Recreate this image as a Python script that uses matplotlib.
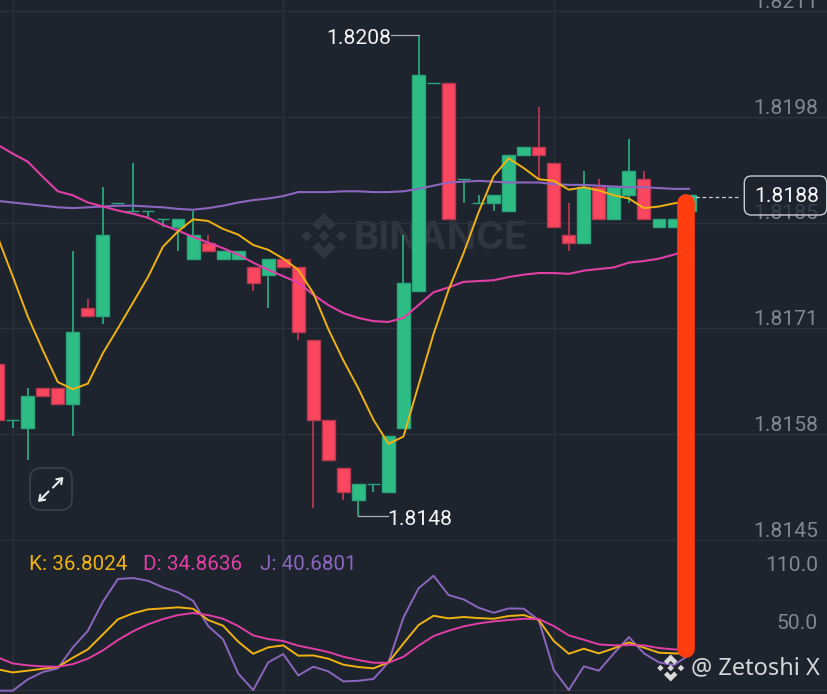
#!/usr/bin/env python3
"""
Candlestick chart with three moving averages and a KDJ panel (dark exchange style).
Output: out.png
"""

import matplotlib
matplotlib.use("Agg")
import matplotlib.pyplot as plt
from matplotlib.patches import FancyBboxPatch, Polygon

# Candles start one slot before the first gridline, so index runs from -1
first_index = -1
opens = [
	1.8167, 1.8160, 1.8159, 1.8164, 1.8164, 1.8162, 1.8174, 1.8173, 1.8187, 1.8186,
	1.8186, 1.8185, 1.8184, 1.8180, 1.8182, 1.8180, 1.8180, 1.8179, 1.8178, 1.8180,
	1.8179, 1.8170, 1.8160, 1.8154, 1.8150, 1.8152, 1.8151, 1.8159, 1.8176, 1.8202,
	1.8202, 1.8190, 1.8187, 1.8187, 1.8186, 1.8193, 1.8194, 1.8192, 1.8183, 1.8182,
	1.8189, 1.8185, 1.8188, 1.8190, 1.8184, 1.8184, 1.8186,
]
closes = [
	1.8160, 1.8160, 1.8163, 1.8163, 1.8162, 1.8171, 1.8173, 1.8183, 1.8187, 1.8186,
	1.8186, 1.8185, 1.8185, 1.8183, 1.8181, 1.8181, 1.8181, 1.8177, 1.8180, 1.8179,
	1.8171, 1.8160, 1.8155, 1.8151, 1.8152, 1.8152, 1.8158, 1.8177, 1.8203, 1.8202,
	1.8185, 1.8190, 1.8187, 1.8188, 1.8193, 1.8194, 1.8193, 1.8184, 1.8182, 1.8189,
	1.8185, 1.8189, 1.8191, 1.8185, 1.8185, 1.8185, 1.8188,
]
highs = [
	1.8167, 1.8160, 1.8164, 1.8164, 1.8164, 1.8181, 1.8175, 1.8189, 1.8187, 1.8192,
	1.8186, 1.8185, 1.8185, 1.8186, 1.8183, 1.8181, 1.8181, 1.8179, 1.8180, 1.8180,
	1.8179, 1.8170, 1.8160, 1.8154, 1.8152, 1.8152, 1.8158, 1.8183, 1.8208, 1.8202,
	1.8202, 1.8190, 1.8188, 1.8188, 1.8193, 1.8194, 1.8199, 1.8192, 1.8187, 1.8191,
	1.8190, 1.8189, 1.8195, 1.8191, 1.8185, 1.8185, 1.8188,
]
lows = [
	1.8160, 1.8159, 1.8155, 1.8163, 1.8162, 1.8158, 1.8173, 1.8172, 1.8187, 1.8186,
	1.8185, 1.8184, 1.8181, 1.8180, 1.8181, 1.8180, 1.8180, 1.8176, 1.8174, 1.8179,
	1.8170, 1.8149, 1.8155, 1.8150, 1.8148, 1.8151, 1.8151, 1.8159, 1.8176, 1.8202,
	1.8185, 1.8187, 1.8187, 1.8186, 1.8186, 1.8193, 1.8190, 1.8184, 1.8181, 1.8182,
	1.8185, 1.8185, 1.8187, 1.8185, 1.8184, 1.8184, 1.8186,
]

ma_fast = [
	1.81828, 1.81779, 1.81729, 1.81687, 1.81647, 1.81638, 1.81645, 1.81683, 1.81714, 1.81746,
	1.81778, 1.81816, 1.81835, 1.81850, 1.81848, 1.81838, 1.81831, 1.81818, 1.81812, 1.81801,
	1.81787, 1.81758, 1.81713, 1.81674, 1.81639, 1.81600, 1.81570, 1.81579, 1.81643, 1.81707,
	1.81762, 1.81808, 1.81859, 1.81904, 1.81926, 1.81914, 1.81900, 1.81898, 1.81887, 1.81890,
	1.81886, 1.81880, 1.81876, 1.81864, 1.81866, 1.81870, 1.81872,
]
ma_mid = [
	1.81943, 1.81932, 1.81922, 1.81903, 1.81885, 1.81880, 1.81871, 1.81866, 1.81861, 1.81857,
	1.81852, 1.81843, 1.81836, 1.81828, 1.81821, 1.81814, 1.81806, 1.81796, 1.81787, 1.81779,
	1.81771, 1.81756, 1.81743, 1.81733, 1.81727, 1.81723, 1.81722, 1.81727, 1.81743, 1.81759,
	1.81765, 1.81772, 1.81773, 1.81774, 1.81778, 1.81781, 1.81783, 1.81783, 1.81782, 1.81786,
	1.81788, 1.81790, 1.81796, 1.81798, 1.81801, 1.81806, 1.81812,
]
ma_slow = [
	1.81873, 1.81871, 1.81869, 1.81867, 1.81865, 1.81864, 1.81865, 1.81866, 1.81867, 1.81867,
	1.81866, 1.81865, 1.81863, 1.81862, 1.81864, 1.81867, 1.81871, 1.81874, 1.81876, 1.81879,
	1.81884, 1.81884, 1.81884, 1.81885, 1.81885, 1.81884, 1.81884, 1.81885, 1.81888, 1.81892,
	1.81896, 1.81897, 1.81898, 1.81897, 1.81896, 1.81896, 1.81896, 1.81894, 1.81893, 1.81893,
	1.81892, 1.81891, 1.81890, 1.81890, 1.81889, 1.81888, 1.81888,
]

kdj_k = [
	12.5, 9.35, 11.1, 13.1, 14.9, 24.5, 33.1, 48.6, 64.2, 70.4,
	74.5, 75.5, 76.6, 75.2, 63.5, 57.6, 41.1, 28.6, 35.2, 37.3,
	26.6, 26.9, 23.5, 17.3, 14.9, 13.5, 19.7, 39.3, 58.3, 67.9,
	65.2, 66.6, 65.5, 64.8, 67.6, 68.6, 63.5, 41.8, 28.6, 33.8,
	29.0, 34.2, 40.4, 34.9, 29.7, 29.0, 29.0,
]
kdj_d = [
	24.9, 18.6, 16.6, 15.5, 15.2, 17.9, 23.5, 32.1, 42.8, 51.8,
	59.0, 64.5, 68.6, 70.7, 68.6, 64.8, 57.3, 47.6, 43.8, 41.8,
	36.9, 33.8, 30.4, 25.5, 22.1, 19.3, 19.3, 25.5, 36.9, 46.9,
	52.4, 56.9, 60.0, 62.1, 63.5, 64.8, 64.5, 57.3, 47.6, 43.1,
	38.3, 37.3, 37.6, 37.3, 34.5, 33.1, 32.4,
]
kdj_j = [
	-9.6, -9.6, 2.1, 9.7, 13.5, 35.2, 52.4, 82.4, 105.9, 106.9,
	104.1, 97.2, 92.1, 83.4, 57.3, 43.5, 8.3, -8.9, 19.7, 28.3,
	6.2, 15.2, 10.4, 0.0, 0.7, 2.5, 19.7, 66.2, 96.2, 109.3,
	89.3, 84.8, 76.2, 71.0, 75.5, 75.2, 63.5, 11.8, -8.9, 15.6,
	11.1, 29.0, 45.9, 29.0, 19.7, 16.9, 27.3,
]

price_ticks = [1.8211, 1.81978, 1.81846, 1.81714, 1.81582, 1.8145]
price_tick_labels = ["1.8211", "1.8198", "1.8185", "1.8171", "1.8158", "1.8145"]
kdj_ticks = [110.0, 50.0]
kdj_tick_labels = ["110.0", "50.0"]
grid_slots = [0, 18, 36]
high_label = "1.8208"
low_label = "1.8148"
last_label = "1.8188"
last_price = 1.81878
legend_items = [("K: 36.8024", 29), ("D: 34.8636", 143), ("J: 40.6801", 260)]

BG = "#1E242E"
GRID = "#2C323C"
UP = "#2EBD85"
DOWN = "#F9475F"
UP_WICK = "#2AA67C"
DOWN_WICK = "#B8364F"
YELLOW = "#F0B212"
MAGENTA = "#E03FA6"
PURPLE = "#8C66BE"
AXIS_TEXT = "#7F8792"
FONT = "Roboto"
NUM_SIZE = 15.2

W, H = 828, 694
XLIM = (-0.845, 54.245)
PRICE_BOTTOM_PX = 541


def add_logo(ax, cx, cy, r, color, zorder=1):
	"""Diamond logo drawn from five polygons, centred on (cx, cy) in pixel coordinates."""
	s = 0.24
	shapes = [
		[(0, s), (s, 0), (0, -s), (-s, 0)],
		[(-0.76, s), (-0.76 + s, 0), (-0.76, -s), (-0.76 - s, 0)],
		[(0.76, s), (0.76 + s, 0), (0.76, -s), (0.76 - s, 0)],
		[(0, 1), (0.5, 0.5), (0.26, 0.26), (0, 0.52), (-0.26, 0.26), (-0.5, 0.5)],
		[(0, -1), (0.5, -0.5), (0.26, -0.26), (0, -0.52), (-0.26, -0.26), (-0.5, -0.5)],
	]
	for shape in shapes:
		pts = [(cx + px * r, cy - py * r) for px, py in shape]
		ax.add_patch(Polygon(pts, closed=True, facecolor=color, edgecolor="none", zorder=zorder))


def pixel_axes(fig, zorder):
	"""Full-figure axes whose data coordinates are image pixels, for chrome and overlays."""
	ax = fig.add_axes([0, 0, 1, 1], zorder=zorder)
	ax.set_xlim(0, W)
	ax.set_ylim(H, 0)
	ax.axis("off")
	ax.patch.set_alpha(0)
	return ax


def draw_candles(ax, xs):
	for x, o, c, h, l in zip(xs, opens, closes, highs, lows):
		rising = c >= o
		ax.vlines(x, l, h, color=UP_WICK if rising else DOWN_WICK, lw=1.3, zorder=2)
		ax.bar(
			x, abs(c - o), bottom=min(o, c), width=0.86,
			color=UP if rising else DOWN, edgecolor=UP_WICK if rising else DOWN_WICK,
			linewidth=1.0, zorder=3,
		)


def style_panel(ax, ylim, yticks):
	ax.set_facecolor("none")
	ax.set_xlim(*XLIM)
	ax.set_ylim(*ylim)
	ax.set_xticks(grid_slots)
	ax.set_yticks(yticks)
	ax.tick_params(left=False, bottom=False, labelleft=False, labelbottom=False)
	ax.grid(True, color=GRID, lw=1.0)
	ax.set_axisbelow(True)
	for spine in ax.spines.values():
		spine.set_visible(False)


def main() -> None:
	fig = plt.figure(figsize=(W / 100, H / 100), dpi=100, facecolor=BG)
	xs = list(range(first_index, first_index + len(opens)))

	# Watermark sits under everything else
	under = pixel_axes(fig, 0)
	add_logo(under, 324, 236, 23, "#30363F")
	under.text(440.5, 238.5, "BINANCE", color="#30363F", fontsize=27.6, family="Inter",
		fontweight="bold", ha="center", va="center")

	# Price panel
	price_top = 1.8208 + 35 * 1.2477e-5
	price_bottom = 1.8208 - (PRICE_BOTTOM_PX - 35) * 1.2477e-5
	ax = fig.add_axes([0, 1 - PRICE_BOTTOM_PX / H, 1, PRICE_BOTTOM_PX / H], zorder=1)
	style_panel(ax, (price_bottom, price_top), price_ticks)
	draw_candles(ax, xs)
	ax.plot(xs, ma_slow, color=PURPLE, lw=1.5, zorder=4)
	ax.plot(xs, ma_mid, color=MAGENTA, lw=1.5, zorder=4)
	ax.plot(xs, ma_fast, color=YELLOW, lw=1.4, zorder=5)

	for value, label in zip(price_ticks, price_tick_labels):
		ax.annotate(label, (1, value), xycoords=("axes fraction", "data"), xytext=(-7.2, 6.2),
			textcoords="offset points", ha="right", va="center", color=AXIS_TEXT,
			fontsize=NUM_SIZE, family=FONT, annotation_clip=False, zorder=1)

	# High and low callouts
	ax.plot([25.2, 27], [1.8208, 1.8208], color="#A9ADB3", lw=0.9, zorder=4)
	ax.plot([23, 25.0], [1.8148, 1.8148], color="#A9ADB3", lw=0.9, zorder=4)
	ax.text(25.2, 1.81978 + 0.00098, high_label, color="#F2F3F5", fontsize=NUM_SIZE, family=FONT,
		ha="right", va="center", zorder=6)
	ax.text(24.95, 1.81476, low_label, color="#F2F3F5", fontsize=NUM_SIZE, family=FONT,
		ha="left", va="center", zorder=6)

	# KDJ panel
	kdj_bottom_px = H
	sub = fig.add_axes([0, 0, 1, (kdj_bottom_px - PRICE_BOTTOM_PX) / H], zorder=1)
	style_panel(sub, (-13.0, 145.2), [-9.0])
	sub.plot(xs, kdj_j, color=PURPLE, lw=1.4, zorder=3)
	sub.plot(xs, kdj_k, color=YELLOW, lw=1.4, zorder=4)
	sub.plot(xs, kdj_d, color=MAGENTA, lw=1.4, zorder=5)

	for value, label in zip(kdj_ticks, kdj_tick_labels):
		sub.annotate(label, (1, value), xycoords=("axes fraction", "data"), xytext=(-7.2, 6.8),
			textcoords="offset points", ha="right", va="center", color=AXIS_TEXT,
			fontsize=NUM_SIZE, family=FONT, annotation_clip=False)

	# Overlay: legend, expand button, last price tag, hand-drawn marker, signature
	top = pixel_axes(fig, 3)
	for (text, x), color in zip(legend_items, [YELLOW, MAGENTA, PURPLE]):
		top.text(x, 564.5, text, color=color, fontsize=14.9, family=FONT, ha="left", va="center")

	top.add_patch(FancyBboxPatch((37, 475), 28, 28, boxstyle="round,pad=7,rounding_size=11",
		facecolor=BG, edgecolor="#393F49", lw=1.3))
	arrow = dict(arrowstyle="->,head_length=0.35,head_width=0.25", color="#E8EAED", lw=1.5,
		shrinkA=0, shrinkB=0)
	top.annotate("", xy=(63.5, 477), xytext=(53, 487.5), arrowprops=arrow)
	top.annotate("", xy=(38, 502), xytext=(48.5, 491.5), arrowprops=arrow)

	ax.plot([45, 48.28], [last_price, last_price], color="#C9CCD1", lw=0.9, ls=(0, (3, 2.2)), zorder=6)
	# The tag is see-through, so the axis label below it still shows faintly
	top.add_patch(FancyBboxPatch((748.3, 180), 74.4, 31, boxstyle="round,pad=4,rounding_size=7",
		facecolor=(0.118, 0.141, 0.18, 0.72), edgecolor="#C9CCD1", lw=1.0))
	top.text(787, 196.5, last_label, color="#F5F6F7", fontsize=NUM_SIZE, family=FONT,
		ha="center", va="center")

	top.plot([686.5, 686.5], [203, 649], color="#FF3D0E", lw=12.7, solid_capstyle="round")

	add_logo(top, 670.7, 668, 13.5, "#D9D9D9", zorder=4)
	top.text(691, 668.5, "@ Zetoshi X", color="#D4D6D8", fontsize=17, family="Noto Sans",
		ha="left", va="center", zorder=4)

	fig.savefig("out.png", dpi=100, facecolor=BG)
	plt.close(fig)


if __name__ == "__main__":
	main()
